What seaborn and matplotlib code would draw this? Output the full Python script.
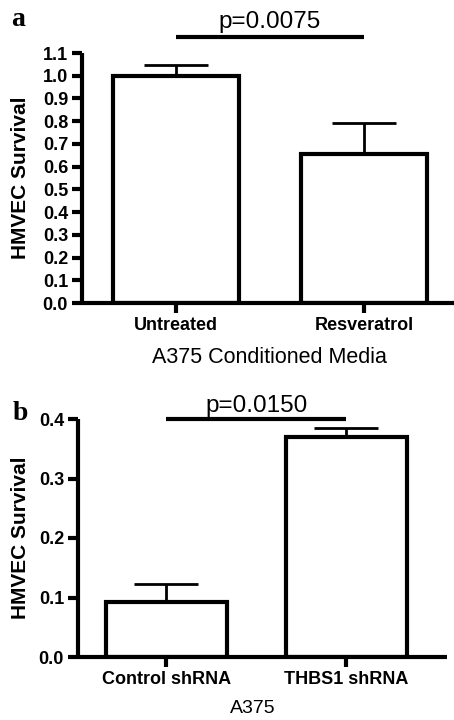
import numpy as np
import matplotlib
matplotlib.use("Agg")
from matplotlib import pyplot as plt
import seaborn as sns

# panel a data
a_groups = ["Untreated", "Resveratrol"]
a_means = [1.00, 0.655]
a_err = [0.047, 0.138]
a_ticks = [0.0, 0.1, 0.2, 0.3, 0.4, 0.5, 0.6, 0.7, 0.8, 0.9, 1.0, 1.1]
a_pval = "p=0.0075"

# panel b data
b_groups = ["Control shRNA", "THBS1 shRNA"]
b_means = [0.092, 0.370]
b_err = [0.031, 0.015]
b_ticks = [0.0, 0.1, 0.2, 0.3, 0.4]
b_pval = "p=0.0150"

sns.set_style("ticks")
plt.rcParams['font.family'] = ['Liberation Sans', 'DejaVu Sans']
for k in ["text.color", "axes.labelcolor", "xtick.color", "ytick.color", "axes.edgecolor"]:
    plt.rcParams[k] = "black"

fig = plt.figure(figsize=(4.54, 7.2), dpi=100)
ax1 = fig.add_axes([82/454, 1-303/720, 372/454, 250/720])
ax2 = fig.add_axes([78/454, 1-657/720, 369/454, 238/720])

LW = 3.0


def draw_panel(ax, groups, means, err, ticks, pval, sig_y, txt_y, xlim, letter, let_pos,
               xlabel, xl_size, xl_pos, yl_x):
    sns.barplot(x=groups, y=means, ax=ax, color="white", edgecolor="black",
                linewidth=LW, width=0.67, errorbar=None, saturation=1)
    xs = np.arange(len(groups))
    # upper error bars only
    ax.errorbar(xs, means, yerr=[np.zeros(len(err)), err], fmt="none",
                ecolor="black", elinewidth=2, capsize=23, capthick=2, zorder=1)
    ax.set_xlim(*xlim)
    ax.set_ylim(0, ticks[-1])
    ax.set_yticks(ticks)
    ax.set_yticklabels([f"{t:.1f}" for t in ticks], fontsize=13, fontweight="bold")
    ax.set_xticks(xs)
    ax.set_xticklabels(groups, fontsize=13, fontweight="bold")
    for s in ["top", "right"]:
        ax.spines[s].set_visible(False)
    for s in ["left", "bottom"]:
        ax.spines[s].set_linewidth(LW)
        ax.spines[s].set_capstyle("butt")
        ax.spines[s].set_color("black")
    ax.tick_params(axis="both", length=7, width=LW, direction="out", pad=3, colors="black")
    ax.set_ylabel("HMVEC Survival", fontsize=15, fontweight="bold")
    ax.yaxis.set_label_coords(yl_x, 0.5)
    ax.set_xlabel(xlabel, fontsize=xl_size, va="baseline")
    ax.xaxis.set_label_coords(*xl_pos)
    # significance bar
    ax.plot([xs[0], xs[1]], [sig_y, sig_y], color="black", lw=LW, clip_on=False,
            solid_capstyle="butt")
    ax.text(np.mean(xs), txt_y, pval, ha="center", va="center", fontsize=17.5)
    ax.text(let_pos[0], let_pos[1], letter, transform=ax.transAxes, fontsize=20,
            fontweight="bold", family="Liberation Serif", ha="left", va="baseline")


draw_panel(ax1, a_groups, a_means, a_err, a_ticks, a_pval, 1.17, 1.235,
           (-0.5, 1.48), "a", (-0.19, 1.11), "A375 Conditioned Media", 15.5,
           (0.505, -0.24), -0.14)
draw_panel(ax2, b_groups, b_means, b_err, b_ticks, b_pval, 0.4, 0.422,
           (-0.49, 1.56), "b", (-0.178, 0.995), "A375", 14,
           (0.474, -0.237), -0.13)

fig.savefig("out.png", dpi=100)
